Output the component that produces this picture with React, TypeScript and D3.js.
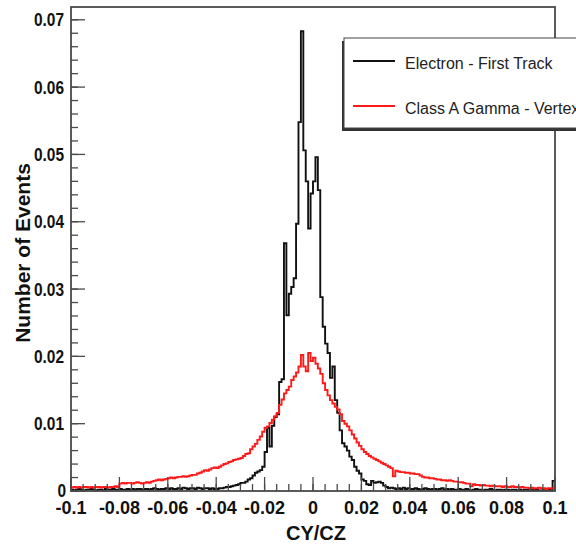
import React from 'react';
import * as d3 from 'd3';

// Histogram range and bin contents (200 bins of width 0.001 over CY/CZ in [-0.1, 0.1])
const xRange: [number, number] = [-0.1, 0.1];

const electronFirstTrack: number[] = [
  0.0002, 0.0001, 0.0002, 0.0003, 0.0002, 0.0001, 0.0002, 0.0002, 0.0003, 0.0002, 0.0001, 0.0002, 0.0002, 0.0001, 0.0003, 0.0002, 0.0002, 0.0003, 0.0002, 0.0002,
  0.0003, 0.0002, 0.0002, 0.0003, 0.0002, 0.0003, 0.0002, 0.0003, 0.0003, 0.0002, 0.0003, 0.0003, 0.0002, 0.0003, 0.0004, 0.0003, 0.0002, 0.0003, 0.0003, 0.0004,
  0.0003, 0.0004, 0.0003, 0.0003, 0.0004, 0.0003, 0.0005, 0.0004, 0.0003, 0.0004, 0.0004, 0.0003, 0.0005, 0.0004, 0.0003, 0.0004, 0.0004, 0.0003, 0.0004, 0.0003,
  0.0003, 0.0004, 0.0004, 0.0005, 0.0006, 0.0006, 0.0007, 0.0008, 0.0009, 0.0010, 0.0012, 0.0012, 0.0014, 0.0017, 0.0019, 0.0023, 0.0027, 0.0029, 0.0031, 0.0036,
  0.0058, 0.0094, 0.0066, 0.0097, 0.0110, 0.0114, 0.0162, 0.0166, 0.0368, 0.0261, 0.0293, 0.0303, 0.0316, 0.0397, 0.0548, 0.0683, 0.0506, 0.0460, 0.0390, 0.0442,
  0.0460, 0.0496, 0.0447, 0.0288, 0.0244, 0.0219, 0.0205, 0.0168, 0.0185, 0.0135, 0.0116, 0.0090, 0.0071, 0.0066, 0.0060, 0.0051, 0.0046, 0.0036, 0.0030, 0.0026,
  0.0017, 0.0015, 0.0010, 0.0009, 0.0015, 0.0012, 0.0013, 0.0014, 0.0012, 0.0008, 0.0006, 0.0004, 0.0005, 0.0004, 0.0003, 0.0004, 0.0003, 0.0005, 0.0003, 0.0004,
  0.0003, 0.0003, 0.0004, 0.0003, 0.0002, 0.0003, 0.0004, 0.0003, 0.0002, 0.0003, 0.0003, 0.0002, 0.0003, 0.0004, 0.0002, 0.0003, 0.0002, 0.0003, 0.0002, 0.0002,
  0.0003, 0.0002, 0.0002, 0.0003, 0.0002, 0.0001, 0.0002, 0.0003, 0.0002, 0.0002, 0.0001, 0.0002, 0.0002, 0.0003, 0.0002, 0.0001, 0.0002, 0.0002, 0.0001, 0.0002,
  0.0002, 0.0001, 0.0002, 0.0002, 0.0001, 0.0002, 0.0001, 0.0002, 0.0002, 0.0001, 0.0002, 0.0001, 0.0002, 0.0001, 0.0001, 0.0002, 0.0001, 0.0002, 0.0001, 0.0015,
];

const classAGammaVertex: number[] = [
  0.0005, 0.0006, 0.0005, 0.0006, 0.0005, 0.0006, 0.0006, 0.0005, 0.0006, 0.0005, 0.0006, 0.0006, 0.0005, 0.0006, 0.0006, 0.0005, 0.0006, 0.0006, 0.0007, 0.0006,
  0.0011, 0.0012, 0.0011, 0.0012, 0.0012, 0.0011, 0.0012, 0.0013, 0.0012, 0.0011, 0.0012, 0.0013, 0.0012, 0.0014, 0.0015, 0.0016, 0.0017, 0.0016, 0.0017, 0.0018,
  0.0019, 0.0020, 0.0019, 0.0020, 0.0021, 0.0021, 0.0022, 0.0021, 0.0022, 0.0023, 0.0024, 0.0024, 0.0026, 0.0027, 0.0029, 0.0031, 0.0030, 0.0032, 0.0034, 0.0035,
  0.0034, 0.0036, 0.0038, 0.0040, 0.0041, 0.0043, 0.0044, 0.0046, 0.0047, 0.0048, 0.0049, 0.0052, 0.0055, 0.0056, 0.0062, 0.0066, 0.0070, 0.0076, 0.0081, 0.0088,
  0.0094, 0.0096, 0.0101, 0.0106, 0.0111, 0.0116, 0.0128, 0.0136, 0.0145, 0.0150, 0.0155, 0.0165, 0.0170, 0.0176, 0.0185, 0.0202, 0.0185, 0.0178, 0.0205, 0.0193,
  0.0198, 0.0189, 0.0182, 0.0174, 0.0160, 0.0150, 0.0142, 0.0135, 0.0130, 0.0125, 0.0121, 0.0114, 0.0104, 0.0100, 0.0096, 0.0090, 0.0084, 0.0078, 0.0072, 0.0067,
  0.0062, 0.0058, 0.0055, 0.0052, 0.0050, 0.0048, 0.0046, 0.0044, 0.0042, 0.0040, 0.0038, 0.0036, 0.0034, 0.0022, 0.0030, 0.0029, 0.0028, 0.0028, 0.0027, 0.0027,
  0.0026, 0.0026, 0.0025, 0.0025, 0.0023, 0.0021, 0.0020, 0.0020, 0.0019, 0.0019, 0.0018, 0.0017, 0.0017, 0.0016, 0.0016, 0.0015, 0.0016, 0.0015, 0.0014, 0.0014,
  0.0013, 0.0013, 0.0012, 0.0011, 0.0011, 0.0007, 0.0010, 0.0009, 0.0009, 0.0008, 0.0009, 0.0008, 0.0008, 0.0007, 0.0008, 0.0007, 0.0007, 0.0007, 0.0006, 0.0007,
  0.0006, 0.0006, 0.0007, 0.0006, 0.0006, 0.0005, 0.0006, 0.0005, 0.0005, 0.0004, 0.0005, 0.0004, 0.0004, 0.0005, 0.0004, 0.0004, 0.0003, 0.0004, 0.0004, 0.0004,
];

const xTickValues = [-0.1, -0.08, -0.06, -0.04, -0.02, 0, 0.02, 0.04, 0.06, 0.08, 0.1];
const xTickLabels = ['-0.1', '-0.08', '-0.06', '-0.04', '-0.02', '0', '0.02', '0.04', '0.06', '0.08', '0.1'];
const yTickValues = [0, 0.01, 0.02, 0.03, 0.04, 0.05, 0.06, 0.07];
const yTickLabels = ['0', '0.01', '0.02', '0.03', '0.04', '0.05', '0.06', '0.07'];
const yMax = 0.0719;
const xMinorStep = 0.005;
const yMinorStep = 0.002;

const seriesNames = ['Electron - First Track', 'Class A Gamma - Vertex'];
const seriesColors = ['#111111', '#ff1a1a'];
const xTitle = 'CY/CZ';
const yTitle = 'Number of Events';

const FONT = "'Liberation Sans', Arial, Helvetica, sans-serif";

export default function App() {
  const W = 576;
  const H = 545;
  const left = 71;
  const right = 555;
  const top = 7;
  const bottom = 491;

  const x = d3.scaleLinear().domain(xRange).range([left, right]);
  const y = d3.scaleLinear().domain([0, yMax]).range([bottom, top]);

  const histPath = (vals: number[]) => {
    const bw = (xRange[1] - xRange[0]) / vals.length;
    let d = '';
    vals.forEach((v, i) => {
      const x0 = x(xRange[0] + i * bw);
      const x1 = x(xRange[0] + (i + 1) * bw);
      const yy = y(v);
      d += (i === 0 ? `M${x0},${yy}` : `V${yy}`) + `H${x1}`;
    });
    return d;
  };

  const nxMinor = Math.round((xRange[1] - xRange[0]) / xMinorStep);
  const xMinor = d3.range(nxMinor + 1).map((i) => xRange[0] + i * xMinorStep);
  const nyMinor = Math.floor(yMax / yMinorStep);
  const yMinor = d3.range(nyMinor + 1).map((i) => i * yMinorStep);

  const axisColor = '#4a4a4a';

  const legX = 344;
  const legY = 38;
  const legW = 250;
  const legH = 90;

  return (
    <svg
      width={W}
      height={H}
      viewBox={`0 0 ${W} ${H}`}
      style={{ position: 'absolute', left: 0, top: 0, display: 'block', background: '#fff' }}
      fontFamily={FONT}
    >
      <rect x={0} y={0} width={W} height={H} fill="#fff" />

      {/* histograms */}
      <g fill="none" strokeLinejoin="miter">
        <path d={histPath(electronFirstTrack)} stroke={seriesColors[0]} strokeWidth={1.9} />
        <path d={histPath(classAGammaVertex)} stroke={seriesColors[1]} strokeWidth={1.9} />
      </g>

      {/* frame */}
      <rect x={left} y={top} width={right - left} height={bottom - top} fill="none" stroke={axisColor} strokeWidth={1.8} />

      {/* ticks */}
      <g stroke={axisColor} strokeWidth={1.3}>
        {xMinor.map((v, i) => (
          <line key={`xm${i}`} x1={x(v)} x2={x(v)} y1={bottom} y2={bottom - 7} />
        ))}
        {xTickValues.map((v, i) => (
          <line key={`xM${i}`} x1={x(v)} x2={x(v)} y1={bottom} y2={bottom - 14} />
        ))}
        {yMinor.map((v, i) => (
          <line key={`ym${i}`} x1={left} x2={left + 7} y1={y(v)} y2={y(v)} />
        ))}
        {yTickValues.map((v, i) => (
          <line key={`yM${i}`} x1={left} x2={left + 14} y1={y(v)} y2={y(v)} />
        ))}
      </g>

      {/* x tick labels */}
      <g fontSize={18} fontWeight="bold" fill="#111" textAnchor="middle">
        {xTickValues.map((v, i) => (
          <text key={`xl${i}`} x={x(v)} y={513.5}>
            {xTickLabels[i]}
          </text>
        ))}
      </g>

      {/* y tick labels (slightly condensed, as in the reference) */}
      <g fontSize={18} fontWeight="bold" fill="#111" textAnchor="end">
        {yTickValues.map((v, i) => (
          <text
            key={`yl${i}`}
            transform={`translate(${i === 0 ? 66 : 64},${y(v) + (i === 0 ? 6 : 6.5)}) scale(0.86,1)`}
          >
            {yTickLabels[i]}
          </text>
        ))}
      </g>

      {/* axis titles */}
      <text x={316} y={540} fontSize={20} fontWeight="bold" fill="#111" textAnchor="middle">
        {xTitle}
      </text>
      <text
        transform={`translate(30,253) rotate(-90)`}
        fontSize={21}
        fontWeight="bold"
        fill="#111"
        textAnchor="middle"
      >
        {yTitle}
      </text>

      {/* legend */}
      <rect x={legX - 2} y={legY + 3} width={legW} height={legH} fill="#333" />
      <rect x={legX} y={legY} width={legW} height={legH} fill="#fff" stroke="#444" strokeWidth={1} />
      {seriesNames.map((name, i) => {
        const ly = legY + 23 + i * 45;
        return (
          <g key={`lg${i}`}>
            <line x1={353} x2={395} y1={ly} y2={ly} stroke={seriesColors[i]} strokeWidth={1.8} />
            <text x={405} y={ly + 8} fontSize={16} fill="#222">
              {name}
            </text>
          </g>
        );
      })}
    </svg>
  );
}
